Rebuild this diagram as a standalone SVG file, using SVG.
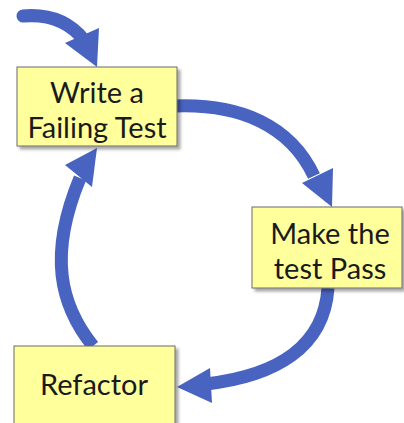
<svg xmlns="http://www.w3.org/2000/svg" width="404" height="423" viewBox="0 0 404 423">
<style>
.box{fill:#FFFF9C;stroke:#6b6b6b;stroke-width:1;filter:url(#sh)}
.lbl{font-family:Lato,"Open Sans","Liberation Sans",sans-serif;font-size:29px;fill:#1a1a1a;text-anchor:middle}
.shaft{fill:none;stroke:#4863C0;stroke-width:13}
.head{fill:#4863C0}
</style>
<defs>
<filter id="sh" x="-10%" y="-10%" width="130%" height="130%">
<feDropShadow dx="3" dy="3" stdDeviation="1.5" flood-color="#000" flood-opacity="0.35"/>
</filter>
</defs>
<rect width="404" height="423" fill="#fff"/>
<g id="connectors">
<path class="shaft" d="M 23 16 C 46 14, 68 20, 84 40" stroke-linecap="round"/>
<polygon class="head" points="97,67 65,43 99,28"/>
<path class="shaft" d="M 176 106 C 240 104, 290 125, 314 176"/>
<polygon class="head" points="332,207 302,183 333,168"/>
<path class="shaft" d="M 328 288 C 324 348, 275 376, 206 384"/>
<polygon class="head" points="177,387 210,368 212,403"/>
<path class="shaft" d="M 93 346 C 60 305, 48 255, 80 178"/>
<polygon class="head" points="97,148 65,165 92,187"/>
</g>
<g id="write">
<rect class="box" x="17" y="67" width="160" height="79"/>
<text class="lbl" x="97" y="103">Write a</text>
<text class="lbl" x="97" y="138">Failing Test</text>
</g>
<g id="pass">
<rect class="box" x="252" y="207" width="150" height="81"/>
<text class="lbl" x="330" y="244">Make the</text>
<text class="lbl" x="330" y="279">test Pass</text>
</g>
<g id="refactor">
<rect class="box" x="14" y="346" width="161" height="82"/>
<text class="lbl" x="94" y="395">Refactor</text>
</g>
</svg>
